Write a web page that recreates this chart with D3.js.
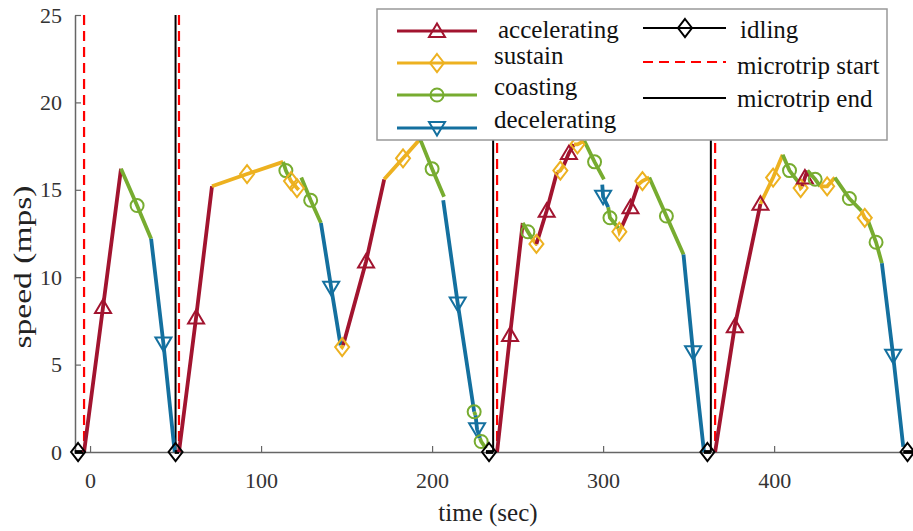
<!DOCTYPE html>
<html>
<head>
<meta charset="utf-8">
<script src="https://cdn.jsdelivr.net/npm/d3@7"></script>
<style>
  body { margin: 0; background: #fff; }
</style>
</head>
<body>
<div id="chart"></div>
<script>
// drive-cycle phases, one entry per plotted segment
var phaseNames = ["accelerating", "sustain", "coasting", "decelerating", "idling"];

// phase of each segment: A accel, S sustain, C coasting, D decel, I idling
var segPhase = ["I","A","C","D","I","A","S","C","S","C","D","S","A","S","C","D","C","D","C","I",
                "A","C","S","A","S","A","S","C","D","C","S","A","S","C","D","I",
                "A","S","C","S","A","C","S","C","S","C","D","I"];

// time (sec) of each segment
var segTime = [
  [-9, -7, -4], [-3.5, 7.6, 18.1], [18.1, 27.5, 35.7], [35.7, 42.9, 49.5], [49.5, 50, 52],
  [52, 62, 71.3], [71.3, 91.8, 112.9], [112.9, 114.5, 116.5], [116.5, 117.5, 121, 122],
  [123.5, 129, 135], [135, 141, 146.5], [146.5, 147.4, 148], [148, 161.4, 172],
  [172, 183, 193], [193, 200, 207], [206.5, 215, 224.6], [224.6, 225.4], [225.4, 226.3, 228],
  [228, 228.7, 231.5], [231.5, 233.3, 235.7],
  [238, 245.6, 253], [253, 256, 258.5], [258.5, 261, 261.5], [261, 267, 273], [273, 275, 277],
  [277, 280, 283], [283, 285, 289], [289, 295, 300.5], [299.5, 300, 303], [303, 304, 309],
  [309, 309.5, 311], [311, 316, 320.5], [320.5, 323, 327], [327, 337, 347], [347, 352.6, 359],
  [359, 361, 363],
  [365.5, 377, 392], [392, 399.4, 405], [405, 409, 414.5], [414.5, 415.5, 416.5],
  [416.5, 418, 419.5], [419.5, 424, 427], [427, 431, 435.5], [435.5, 444, 451],
  [451, 453, 455], [455, 459.6, 463], [463, 469.6, 475.5], [475.5, 478, 482]
];

// speed (mps) of each segment
var segSpeed = [
  [0, 0, 0], [0, 8.3, 16.2], [16.2, 14.1, 12.2], [12.2, 6.2, 0], [0, 0, 0],
  [0, 7.7, 15.2], [15.2, 15.9, 16.6], [16.6, 16.1, 15.7], [15.7, 15.5, 15.1, 15.0],
  [15.7, 14.4, 13.1], [13.1, 9.4, 6.1], [6.1, 6.0, 6.1], [6.1, 10.9, 15.6],
  [15.6, 16.8, 17.9], [17.9, 16.2, 14.6], [14.4, 8.5, 2.3], [2.3, 2.1], [2.1, 1.3, 0.8],
  [0.8, 0.6, 0.2], [0, 0, 0],
  [0, 6.7, 13.1], [13.1, 12.6, 12.2], [12.2, 11.9, 11.9], [11.9, 13.8, 16.0], [16.0, 16.1, 16.4],
  [16.4, 17.1, 17.6], [17.6, 17.6, 17.8], [17.8, 16.6, 15.6], [15.3, 14.6, 14.0], [14.0, 13.4, 12.8],
  [12.8, 12.6, 12.9], [12.9, 14.0, 15.3], [15.3, 15.5, 15.7], [15.7, 13.5, 11.3], [11.3, 5.7, 0],
  [0, 0, 0],
  [0, 7.2, 14.2], [14.2, 15.7, 17.0], [17.0, 16.1, 15.4], [15.4, 15.1, 15.2],
  [15.2, 15.7, 16.1], [16.1, 15.6, 15.2], [15.2, 15.2, 15.7], [15.7, 14.5, 13.8],
  [13.8, 13.4, 13.2], [13.2, 12.0, 10.8], [10.8, 5.5, 0.3], [0, 0, 0]
];

// which points of a segment carry a marker
var segMark = [
  [1],[1],[1],[1],[1],[1],[1],[1],[1,2],[1],[1],[1],[1],[1],[1],[1],[0],[1],[1],[1],
  [1],[1],[1],[1],[1],[1],[1],[1],[1],[1],[1],[1],[1],[1],[1],[1],
  [1,2],[1],[1],[1],[1],[1],[1],[1],[1],[1],[1],[1]
];

var microtripStart = [-3.5, 52, 238, 365.5];
var microtripEnd = [50, 235.7, 363];

var yTicks = [0, 5, 10, 15, 20, 25];
var xTicks = [0, 100, 200, 300, 400];

var FONT = '"Liberation Serif", "DejaVu Serif", "Times New Roman", serif';

var colors = { A: "#A2142F", S: "#EDB120", C: "#77AC30", D: "#14709F", I: "#000" };
var shapes = {
  A: "M0,-7.5L8,6L-8,6Z",
  S: "M0,-9L7,0L0,9L-7,0Z",
  C: null,
  D: "M0,7.5L8,-6L-8,-6Z",
  I: "M0,-9L7,0L0,9L-7,0Z"
};

var width = 913, height = 531;

var svg = d3.select('#chart').append('svg')
    .attr('width', width)
    .attr('height', height);

var x = d3.scaleLinear().domain([-8.8, 481.2]).range([75, 913]);
var y = d3.scaleLinear().domain([0, 25]).range([452, 15]);

// axes, ticks point inward
var yAxis = svg.append('g')
    .attr('transform', 'translate(75,0)')
    .call(d3.axisLeft(y).tickValues(yTicks).tickSize(-6).tickSizeOuter(0).tickPadding(13));
var xAxis = svg.append('g')
    .attr('transform', 'translate(0,452)')
    .call(d3.axisBottom(x).tickValues(xTicks).tickSize(-6).tickSizeOuter(0).tickPadding(20));

[yAxis, xAxis].forEach(function(g) {
  g.attr('font-family', null).attr('font-size', null);
  g.select('.domain').attr('stroke', '#666').attr('stroke-width', 1.5);
  g.selectAll('.tick line').attr('stroke', '#666').attr('stroke-width', 1.2);
  g.selectAll('.tick text').attr('fill', '#333')
    .style('font-family', FONT).style('font-size', '22px');
});

svg.append('text')
    .attr('x', 488).attr('y', 521)
    .attr('text-anchor', 'middle')
    .style('font-family', FONT).style('font-size', '25px').attr('fill', '#222')
    .text('time (sec)');

svg.append('text')
    .attr('transform', 'translate(31,267) rotate(-90)')
    .attr('text-anchor', 'middle')
    .attr('textLength', 163).attr('lengthAdjust', 'spacingAndGlyphs')
    .style('font-family', FONT).style('font-size', '25px').attr('fill', '#222')
    .text('speed (mps)');

// microtrip boundaries
svg.selectAll('.mstart').data(microtripStart).enter().append('line')
    .attr('class', 'mstart')
    .attr('x1', function(d) { return x(d) }).attr('x2', function(d) { return x(d) })
    .attr('y1', y(25)).attr('y2', y(0))
    .attr('stroke', '#ff0000').attr('stroke-width', 2.2)
    .attr('stroke-dasharray', '10,6');

svg.selectAll('.mend').data(microtripEnd).enter().append('line')
    .attr('class', 'mend')
    .attr('x1', function(d) { return x(d) }).attr('x2', function(d) { return x(d) })
    .attr('y1', y(25)).attr('y2', y(0))
    .attr('stroke', '#000').attr('stroke-width', 2);

// speed trace, one path per segment
var line = d3.line()
    .x(function(d) { return x(d[0]) })
    .y(function(d) { return y(d[1]) });

var segs = segPhase.map(function(p, i) {
  return {
    phase: p,
    pts: segTime[i].map(function(t, j) { return [t, segSpeed[i][j]] }),
    marks: segMark[i]
  };
});

svg.append('g').selectAll('path')
    .data(segs)
    .enter()
  .append('path')
    .attr('d', function(d) { return line(d.pts) })
    .attr('fill', 'none')
    .attr('stroke', function(d) { return colors[d.phase] })
    .attr('stroke-width', 3.8);

function drawMarker(g, phase, px, py) {
  if (phase === 'C') {
    g.append('circle').attr('cx', px).attr('cy', py).attr('r', 6.5)
      .attr('fill', 'none').attr('stroke', colors.C).attr('stroke-width', 2);
  } else {
    g.append('path').attr('d', shapes[phase])
      .attr('transform', 'translate(' + px + ',' + py + ')')
      .attr('fill', 'none').attr('stroke', colors[phase]).attr('stroke-width', 2);
  }
}

var markG = svg.append('g');
segs.forEach(function(s) {
  s.marks.forEach(function(k) {
    drawMarker(markG, s.phase, x(s.pts[k][0]), y(s.pts[k][1]));
  });
});

// legend
var leg = svg.append('g');
leg.append('rect')
    .attr('x', 377).attr('y', 9).attr('width', 510).attr('height', 131)
    .attr('fill', '#fff').attr('stroke', '#999').attr('stroke-width', 1.5);

var legLeft = [
  { p: 'A', ly: 31, ty: 38, tx: 498 },
  { p: 'S', ly: 63, ty: 64, tx: 494 },
  { p: 'C', ly: 95, ty: 95, tx: 494 },
  { p: 'D', ly: 128, ty: 128, tx: 494 }
];
var legIdx = { A: 0, S: 1, C: 2, D: 3 };
legLeft.forEach(function(e) {
  leg.append('line').attr('x1', 397).attr('x2', 477).attr('y1', e.ly).attr('y2', e.ly)
    .attr('stroke', colors[e.p]).attr('stroke-width', 3);
  drawMarker(leg, e.p, 437, e.ly);
  leg.append('text').attr('x', e.tx).attr('y', e.ty)
    .style('font-family', FONT).style('font-size', '25px').attr('fill', '#111')
    .text(phaseNames[legIdx[e.p]]);
});

// right column
leg.append('line').attr('x1', 643).attr('x2', 726).attr('y1', 28).attr('y2', 28)
    .attr('stroke', '#000').attr('stroke-width', 2.2);
drawMarker(leg, 'I', 685, 28);
leg.append('text').attr('x', 740).attr('y', 38)
    .style('font-family', FONT).style('font-size', '25px').attr('fill', '#111').text(phaseNames[4]);

leg.append('line').attr('x1', 643).attr('x2', 726).attr('y1', 62).attr('y2', 62)
    .attr('stroke', '#ff0000').attr('stroke-width', 2.2).attr('stroke-dasharray', '10,6');
leg.append('text').attr('x', 737).attr('y', 74)
    .style('font-family', FONT).style('font-size', '25px').attr('fill', '#111').text('microtrip start');

leg.append('line').attr('x1', 643).attr('x2', 726).attr('y1', 98).attr('y2', 98)
    .attr('stroke', '#000').attr('stroke-width', 2.2);
leg.append('text').attr('x', 737).attr('y', 107)
    .style('font-family', FONT).style('font-size', '25px').attr('fill', '#111').text('microtrip end');
</script>
</body>
</html>
